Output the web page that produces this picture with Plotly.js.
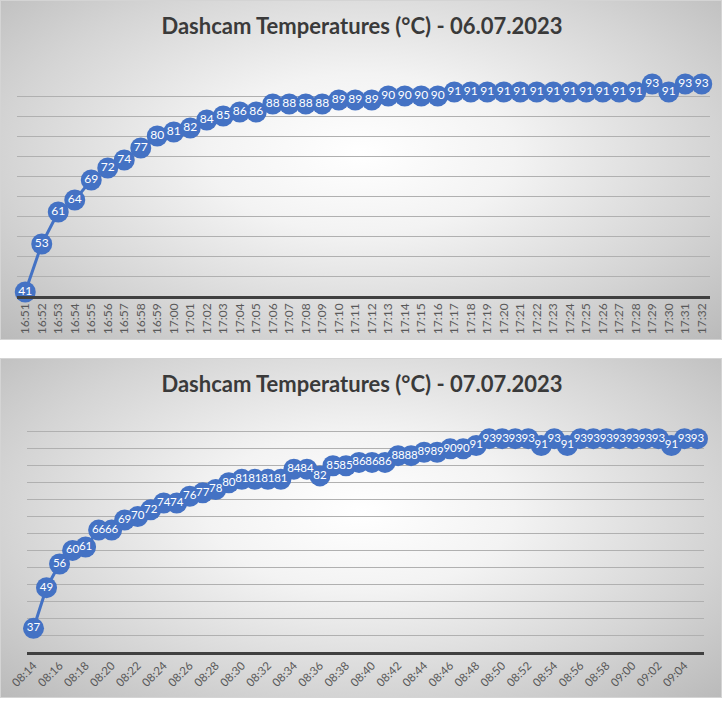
<!DOCTYPE html>
<html><head><meta charset="utf-8">
<script src="https://cdn.plot.ly/plotly-3.0.1.min.js"></script>
<style>
html,body{margin:0;padding:0;background:#ffffff;width:726px;height:702px;overflow:hidden;}
.panel{position:absolute;left:0;width:722px;height:340px;box-sizing:border-box;border:1px solid #d4d4d4;
background:radial-gradient(ellipse farthest-corner at 50% 45%, #ffffff 0%, #f3f3f3 30%, #d4d4d4 70%, #bababa 100%);}
#p1{top:0;}
#p2{top:358px;}
</style></head>
<body>
<div id="p1" class="panel"></div>
<div id="p2" class="panel"></div>
<script>
// Day 1: 06.07.2023
const times1 = ["16:51","16:52","16:53","16:54","16:55","16:56","16:57","16:58","16:59","17:00",
"17:01","17:02","17:03","17:04","17:05","17:06","17:07","17:08","17:09","17:10",
"17:11","17:12","17:13","17:14","17:15","17:16","17:17","17:18","17:19","17:20",
"17:21","17:22","17:23","17:24","17:25","17:26","17:27","17:28","17:29","17:30","17:31","17:32"];
const temps1 = [41,53,61,64,69,72,74,77,80,81,
82,84,85,86,86,88,88,88,88,89,
89,89,90,90,90,90,91,91,91,91,
91,91,91,91,91,91,91,91,93,91,93,93];
const title1 = "Dashcam Temperatures (°C) - 06.07.2023";

// Day 2: 07.07.2023
const times2 = ["08:14","08:15","08:16","08:17","08:18","08:19","08:20","08:21","08:22","08:23",
"08:24","08:25","08:26","08:27","08:28","08:29","08:30","08:31","08:32","08:33",
"08:34","08:35","08:36","08:37","08:38","08:39","08:40","08:41","08:42","08:43",
"08:44","08:45","08:46","08:47","08:48","08:49","08:50","08:51","08:52","08:53",
"08:54","08:55","08:56","08:57","08:58","08:59","09:00","09:01","09:02","09:03","09:04","09:05"];
const temps2 = [37,49,56,60,61,66,66,69,70,72,
74,74,76,77,78,80,81,81,81,81,
84,84,82,85,85,86,86,86,88,88,
89,89,90,90,91,93,93,93,93,91,
93,91,93,93,93,93,93,93,93,91,93,93];
const title2 = "Dashcam Temperatures (°C) - 07.07.2023";

const FONT = 'Lato, "Open Sans", "DejaVu Sans", sans-serif';
const BLUE = '#4472C4';

function makeTrace(x, y, fs){
  return {
    type:'scatter', mode:'lines+markers+text', x:x, y:y,
    text:y.map(String), textposition:'middle center',
    textfont:{family:FONT, size:fs, color:'#ffffff'},
    line:{color:BLUE, width:3},
    marker:{color:BLUE, size:21, line:{width:0}},
    cliponaxis:false, hoverinfo:'skip'
  };
}

function makeLayout(title, h, margin, yrange, xaxisExtra, tfs){
  return {
    width:722, height:h, margin:margin,
    paper_bgcolor:'rgba(0,0,0,0)', plot_bgcolor:'rgba(0,0,0,0)',
    showlegend:false,
    font:{family:FONT, color:'#595959'},
    title:{text:title, font:{family:FONT, size:22, color:'#3a3a3a', weight:'bold'},
      x:0.5, xref:'container', xanchor:'center', y:1-25/h, yref:'container', yanchor:'middle'},
    xaxis:Object.assign({type:'category', showgrid:false, zeroline:false, showline:true,
      linecolor:'#404040', linewidth:2.5, ticks:'',
      tickfont:{family:FONT, size:tfs, color:'#595959'}}, xaxisExtra),
    yaxis:{range:yrange, dtick:5, showticklabels:false, showgrid:true, gridcolor:'#b0b0b0',
      gridwidth:1, zeroline:false, showline:false, ticks:''}
  };
}

Plotly.newPlot('p1', [makeTrace(times1, temps1, 12)],
  makeLayout(title1, 340, {l:16, r:13, t:75, b:45}, [40,95],
    {range:[-0.5, times1.length-0.5], tickangle:-90}, 12),
  {staticPlot:true, displayModeBar:false});

Plotly.newPlot('p2', [makeTrace(times2, temps2, 11.5)],
  makeLayout(title2, 340, {l:26, r:19, t:56, b:47}, [30,100],
    {range:[-0.5, times2.length-0.5], tickangle:-45, dtick:2, tick0:0}, 11.5),
  {staticPlot:true, displayModeBar:false});
</script>
</body></html>
